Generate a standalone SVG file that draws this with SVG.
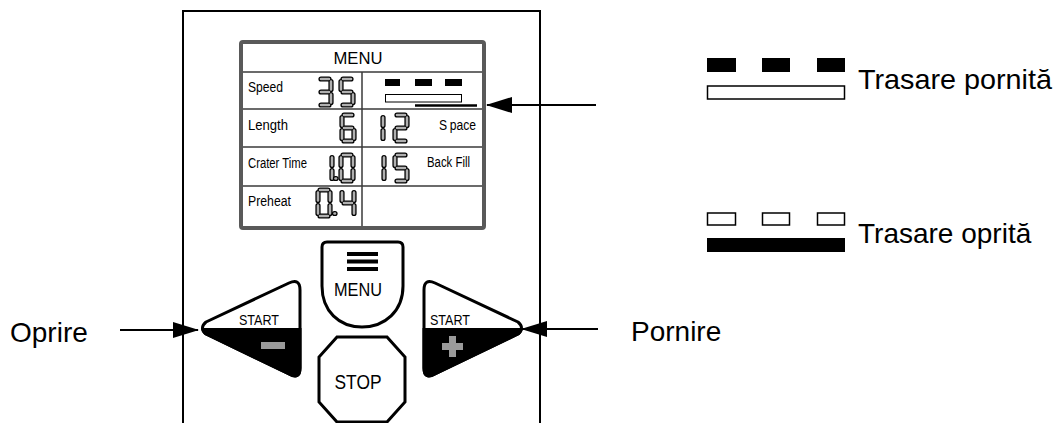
<svg xmlns="http://www.w3.org/2000/svg" xmlns:xlink="http://www.w3.org/1999/xlink" width="1057" height="423" viewBox="0 0 1057 423">
<style>
.lbl{font-family:"Liberation Sans",Arial,sans-serif;fill:#000}
.big{font-size:28px}
.lcd{font-size:14px}
.so{fill:none;stroke:#000;stroke-width:5.2;stroke-linecap:round}
.si{fill:none;stroke:#b0b0b0;stroke-width:2.6;stroke-linecap:round}
.conn{fill:none;stroke:#000;stroke-width:2}
.row{stroke:#3a3a3a;stroke-width:1.5}
</style>
<defs>
<marker id="ah" markerWidth="26" markerHeight="16" refX="25" refY="8" orient="auto" markerUnits="userSpaceOnUse">
<path d="M0,0 L26,8 L0,16 Z" fill="#000"/>
</marker>
<path id="d0" d="M4,2H12 M14,4.5V12.5 M14,17.5V25.5 M4,28H12 M2,17.5V25.5 M2,4.5V12.5"/>
<path id="d1" d="M2,4.5V12.5 M2,17.5V25.5"/>
<path id="d2" d="M4,2H12 M14,4.5V12.5 M4,15H12 M2,17.5V25.5 M4,28H12"/>
<path id="d3" d="M4,2H12 M14,4.5V12.5 M4,15H12 M14,17.5V25.5 M4,28H12"/>
<path id="d4" d="M2,4.5V12.5 M14,4.5V12.5 M4,15H12 M14,17.5V25.5"/>
<path id="d5" d="M4,2H12 M2,4.5V12.5 M4,15H12 M14,17.5V25.5 M4,28H12"/>
<path id="d6" d="M4,2H12 M2,4.5V12.5 M4,15H12 M2,17.5V25.5 M14,17.5V25.5 M4,28H12"/>
<path id="dot" d="M1.5,1.5H2"/>
<clipPath id="lowL"><rect x="190" y="328" width="120" height="60"/></clipPath>
<path id="tri" d="M206,322 L289,283 Q300,278 300,290 L300,368 Q300,380 289,374 L206,334 Q199,328 206,322 Z"/>
</defs>

<g id="housing">
<path d="M183,424 V11 H540 V424" fill="none" stroke="#000" stroke-width="2"/>
</g>

<g id="lcd">
<rect x="241" y="42" width="243" height="186" rx="2" fill="#fff" stroke="#595959" stroke-width="4"/>
<line class="row" x1="243" y1="72" x2="482" y2="72"/>
<line class="row" x1="243" y1="109" x2="482" y2="109"/>
<line class="row" x1="243" y1="147" x2="482" y2="147"/>
<line class="row" x1="243" y1="186" x2="482" y2="186"/>
<line class="row" x1="362" y1="72" x2="362" y2="226"/>
<text class="lbl" x="358" y="64" font-size="17" text-anchor="middle" textLength="49" lengthAdjust="spacingAndGlyphs">MENU</text>
<text class="lbl lcd" x="248" y="92" textLength="35" lengthAdjust="spacingAndGlyphs">Speed</text>
<text class="lbl lcd" x="248" y="130" textLength="40" lengthAdjust="spacingAndGlyphs">Length</text>
<text class="lbl lcd" x="248" y="168" textLength="59" lengthAdjust="spacingAndGlyphs">Crater Time</text>
<text class="lbl lcd" x="248" y="206" textLength="43" lengthAdjust="spacingAndGlyphs">Preheat</text>
<text class="lbl lcd" x="439" y="130" textLength="37" lengthAdjust="spacingAndGlyphs">S<tspan dx="3">pace</tspan></text>
<text class="lbl lcd" x="427" y="167" textLength="43" lengthAdjust="spacingAndGlyphs">Back Fill</text>
<g id="digits">
<use xlink:href="#d3" class="so" x="317" y="77"/><use xlink:href="#d3" class="si" x="317" y="77"/>
<use xlink:href="#d5" class="so" x="339" y="77"/><use xlink:href="#d5" class="si" x="339" y="77"/>
<use xlink:href="#d6" class="so" x="340" y="113"/><use xlink:href="#d6" class="si" x="340" y="113"/>
<use xlink:href="#d1" class="so" x="381" y="113"/><use xlink:href="#d1" class="si" x="381" y="113"/>
<use xlink:href="#d2" class="so" x="393" y="113"/><use xlink:href="#d2" class="si" x="393" y="113"/>
<use xlink:href="#d1" class="so" x="330" y="153"/><use xlink:href="#d1" class="si" x="330" y="153"/>
<use xlink:href="#dot" class="so" x="334" y="177"/><use xlink:href="#dot" class="si" x="334" y="177"/>
<use xlink:href="#d0" class="so" x="339" y="153"/><use xlink:href="#d0" class="si" x="339" y="153"/>
<use xlink:href="#d1" class="so" x="382" y="153"/><use xlink:href="#d1" class="si" x="382" y="153"/>
<use xlink:href="#d5" class="so" x="393" y="153"/><use xlink:href="#d5" class="si" x="393" y="153"/>
<use xlink:href="#d0" class="so" x="316" y="188"/><use xlink:href="#d0" class="si" x="316" y="188"/>
<use xlink:href="#dot" class="so" x="333" y="212"/><use xlink:href="#dot" class="si" x="333" y="212"/>
<use xlink:href="#d4" class="so" x="340" y="188"/><use xlink:href="#d4" class="si" x="340" y="188"/>
</g>
<g id="lcd-trace">
<rect x="385" y="79" width="15" height="7" fill="#000"/>
<rect x="415" y="79" width="17" height="7" fill="#000"/>
<rect x="445" y="79" width="17" height="7" fill="#000"/>
<rect x="385.5" y="94.5" width="76" height="7.5" fill="#fff" stroke="#000" stroke-width="1"/>
<line x1="415" y1="105.5" x2="477" y2="105.5" stroke="#000" stroke-width="2.5"/>
</g>
</g>

<g id="btn-menu">
<path d="M327,242 H398 Q403,242 403,247 V286 C403,311 385,327 362,327 C339,327 322,311 322,286 V247 Q322,242 327,242 Z" fill="#fff" stroke="#000" stroke-width="3"/>
<rect x="347" y="252" width="31" height="4" fill="#000"/>
<rect x="347" y="259.5" width="31" height="4" fill="#000"/>
<rect x="347" y="267" width="31" height="4" fill="#000"/>
<text class="lbl" x="358" y="296" font-size="18" text-anchor="middle" textLength="48" lengthAdjust="spacingAndGlyphs">MENU</text>
</g>

<g id="btn-stop">
<polygon points="337,337 387,337 405,357 405,402 387,422 337,422 319,402 319,357" fill="#fff" stroke="#000" stroke-width="3"/>
<text class="lbl" x="358" y="389" font-size="19.5" text-anchor="middle" textLength="47" lengthAdjust="spacingAndGlyphs">STOP</text>
</g>

<g id="btn-start-minus">
<use xlink:href="#tri" fill="#fff" stroke="#000" stroke-width="3" stroke-linejoin="round"/>
<use xlink:href="#tri" fill="#000" stroke="#000" stroke-width="3" stroke-linejoin="round" clip-path="url(#lowL)"/>
<text class="lbl" x="239" y="325" font-size="15.5" textLength="40" lengthAdjust="spacingAndGlyphs">START</text>
<rect x="261" y="342" width="24" height="7" fill="#9a9a9a"/>
</g>

<g id="btn-start-plus">
<g transform="translate(724,0) scale(-1,1)">
<use xlink:href="#tri" fill="#fff" stroke="#000" stroke-width="3" stroke-linejoin="round"/>
<use xlink:href="#tri" fill="#000" stroke="#000" stroke-width="3" stroke-linejoin="round" clip-path="url(#lowL)"/>
</g>
<text class="lbl" x="430" y="325" font-size="15.5" textLength="40" lengthAdjust="spacingAndGlyphs">START</text>
<rect x="442" y="343" width="21" height="7" fill="#9a9a9a"/>
<rect x="449" y="336" width="7" height="21" fill="#9a9a9a"/>
</g>

<g id="legend-on">
<rect x="707" y="58" width="29" height="14" fill="#000"/>
<rect x="762" y="58" width="28" height="14" fill="#000"/>
<rect x="817" y="58" width="28" height="14" fill="#000"/>
<rect x="707.5" y="86" width="137" height="13" fill="#fff" stroke="#000" stroke-width="1.5"/>
<text class="lbl big" x="858" y="89" textLength="194" lengthAdjust="spacingAndGlyphs">Trasare pornită</text>
</g>

<g id="legend-off">
<rect x="707.5" y="213" width="28" height="12" fill="#fff" stroke="#000" stroke-width="1.5"/>
<rect x="762.5" y="213" width="27" height="12" fill="#fff" stroke="#000" stroke-width="1.5"/>
<rect x="817.5" y="213" width="27" height="12" fill="#fff" stroke="#000" stroke-width="1.5"/>
<rect x="707" y="238" width="138" height="14" fill="#000"/>
<text class="lbl big" x="858" y="243">Trasare oprită</text>
</g>

<g id="label-oprire"><text class="lbl big" x="10" y="342">Oprire</text></g>
<g id="label-pornire"><text class="lbl big" x="631" y="341">Pornire</text></g>

<g id="connectors">
<line class="conn" x1="596" y1="105" x2="487" y2="105" marker-end="url(#ah)"/>
<line class="conn" x1="120" y1="330" x2="198" y2="330" marker-end="url(#ah)"/>
<line class="conn" x1="598" y1="329" x2="522" y2="329" marker-end="url(#ah)"/>
</g>
</svg>
